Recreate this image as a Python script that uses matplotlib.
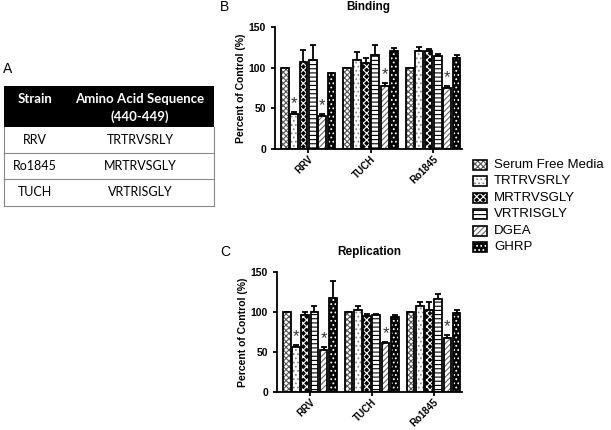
import numpy as np
import matplotlib
matplotlib.use("Agg")
import matplotlib.pyplot as plt
from matplotlib.patches import Rectangle

plt.rcParams['font.family'] = ['Liberation Sans', 'DejaVu Sans']
plt.rcParams['hatch.linewidth'] = 0.8

strains = ['RRV', 'TUCH', 'Ro1845']
treatments = ['Serum Free Media', 'TRTRVSRLY', 'MRTRVSGLY', 'VRTRISGLY', 'DGEA', 'GHRP']

# binding, rows = treatment, cols = strain
bind_mean = [[100, 100, 100],
             [43, 110, 120],
             [107, 106, 120],
             [109, 116, 114],
             [40, 78, 75],
             [93, 120, 112]]
bind_err = [[0, 0, 0],
            [3, 9, 5],
            [15, 6, 3],
            [19, 12, 3],
            [3, 3, 2],
            [0, 4, 4]]
bind_star = [(0, 1), (0, 4), (1, 4), (2, 4)]

rep_mean = [[100, 100, 100],
            [56, 103, 108],
            [96, 95, 102],
            [100, 96, 116],
            [53, 61, 67],
            [118, 94, 99]]
rep_err = [[0, 0, 0],
           [3, 4, 5],
           [4, 2, 10],
           [8, 2, 6],
           [3, 1, 4],
           [21, 2, 4]]
rep_star = [(0, 1), (0, 4), (1, 4), (2, 4)]

table_head = ['Strain', 'Amino Acid Sequence', '(440-449)']
table_rows = [['RRV', 'TRTRVSRLY'], ['Ro1845', 'MRTRVSGLY'], ['TUCH', 'VRTRISGLY']]

# face colour, hatch colour, hatch
styles = [('white', '#555555', 'xxxxxx'),
          ('white', '#888888', '....'),
          ('black', 'white', 'xxxxx'),
          ('white', 'black', '----'),
          ('white', '#666666', '//////'),
          ('black', 'white', '....')]

fig = plt.figure(figsize=(6.11, 4.30), dpi=100)


def fx(p):
    return p / 611


def fy(p):
    return 1 - p / 430


def draw_panel(ax, means, errs, stars, title):
    x = np.arange(len(strains))
    w = 0.125
    for i in range(len(treatments)):
        pos = x + (i - 2.5) * 0.149
        fc, hc, h = styles[i]
        ax.bar(pos, means[i], w, color=fc, edgecolor=hc, hatch=h, linewidth=0, zorder=2)
        ax.bar(pos, means[i], w, fill=False, edgecolor='black', linewidth=1.3, zorder=3)
        ax.errorbar(pos, means[i], yerr=[np.zeros(3), errs[i]], fmt='none',
                    ecolor='black', elinewidth=1.3, capsize=2, capthick=1.3, zorder=1)
    for g, i in stars:
        pos = x[g] + (i - 2.5) * 0.149
        ax.text(pos, means[i][g] + errs[i][g] + 1, '*', ha='center', va='bottom',
                fontsize=12, color='#333333')
    ax.set_xlim(-0.53, 2.46)
    ax.set_ylim(0, 150)
    ax.set_yticks([0, 50, 100, 150])
    ax.set_xticks(x)
    ax.set_xticklabels(strains, rotation=45, ha='right', rotation_mode='anchor',
                       fontsize=7, fontweight='bold')
    for lab in ax.get_yticklabels():
        lab.set_fontsize(7.5)
        lab.set_fontweight('bold')
    ax.spines['top'].set_visible(False)
    ax.spines['right'].set_visible(False)
    ax.spines['left'].set_linewidth(1.3)
    ax.spines['bottom'].set_linewidth(1.3)
    ax.tick_params(width=1.3, length=3)
    ax.tick_params(axis='x', pad=0.5)
    ax.set_ylabel('Percent of Control (%)', fontsize=7.5, fontweight='bold', labelpad=2)
    ax.set_title(title, fontsize=8.5, fontweight='bold', pad=12)


axB = fig.add_axes([fx(275), fy(149), fx(462) - fx(275), fy(27) - fy(149)])
draw_panel(axB, bind_mean, bind_err, bind_star, 'Binding')
axC = fig.add_axes([fx(277), fy(392), fx(462) - fx(277), fy(272) - fy(392)])
draw_panel(axC, rep_mean, rep_err, rep_star, 'Replication')

fig.text(fx(220), fy(7), 'B', fontsize=10, va='center')
fig.text(fx(220), fy(252), 'C', fontsize=10, va='center')
fig.text(fx(3), fy(69), 'A', fontsize=10, va='center')

# legend
for i, name in enumerate(treatments):
    yc = 165 + i * 16.4
    fc, hc, h = styles[i]
    fig.patches.append(Rectangle((fx(473), fy(yc + 5)), 14 / 611, 10 / 430,
                                 transform=fig.transFigure, facecolor=fc, edgecolor=hc,
                                 hatch=h, linewidth=0))
    fig.patches.append(Rectangle((fx(473), fy(yc + 5)), 14 / 611, 10 / 430,
                                 transform=fig.transFigure, fill=False,
                                 edgecolor='black', linewidth=1.2))
    fig.text(fx(494), fy(yc), name, fontsize=9.5, va='center')

# table A
tx0, tx1 = 4, 214
ty = [86, 127, 153, 179, 206]

fig.patches.append(Rectangle((fx(tx0), fy(ty[1])), fx(tx1) - fx(tx0), fy(ty[0]) - fy(ty[1]),
                             transform=fig.transFigure, facecolor='black', edgecolor='none'))
fig.text(fx(35), fy(99), table_head[0], color='white', fontsize=9.5, fontweight='bold',
         ha='center', va='center', family='Lato')
fig.text(fx(140), fy(99), table_head[1], color='white', fontsize=9.5, fontweight='bold',
         ha='center', va='center', family='Lato')
fig.text(fx(140), fy(117), table_head[2], color='white', fontsize=9.5, fontweight='bold',
         ha='center', va='center', family='Lato')
for r, row in enumerate(table_rows):
    yc = (ty[r + 1] + ty[r + 2]) / 2
    fig.text(fx(35), fy(yc), row[0], fontsize=9, ha='center', va='center', family='Lato')
    fig.text(fx(140), fy(yc), row[1], fontsize=9, ha='center', va='center', family='Lato')
    fig.lines.append(plt.Line2D([fx(tx0), fx(tx1)], [fy(ty[r + 2]), fy(ty[r + 2])],
                                transform=fig.transFigure, color='#888888', lw=0.8))
for xe in (tx0, tx1):
    fig.lines.append(plt.Line2D([fx(xe), fx(xe)], [fy(ty[1]), fy(ty[4])],
                                transform=fig.transFigure, color='#888888', lw=0.8))

fig.savefig('out.png', dpi=100)
